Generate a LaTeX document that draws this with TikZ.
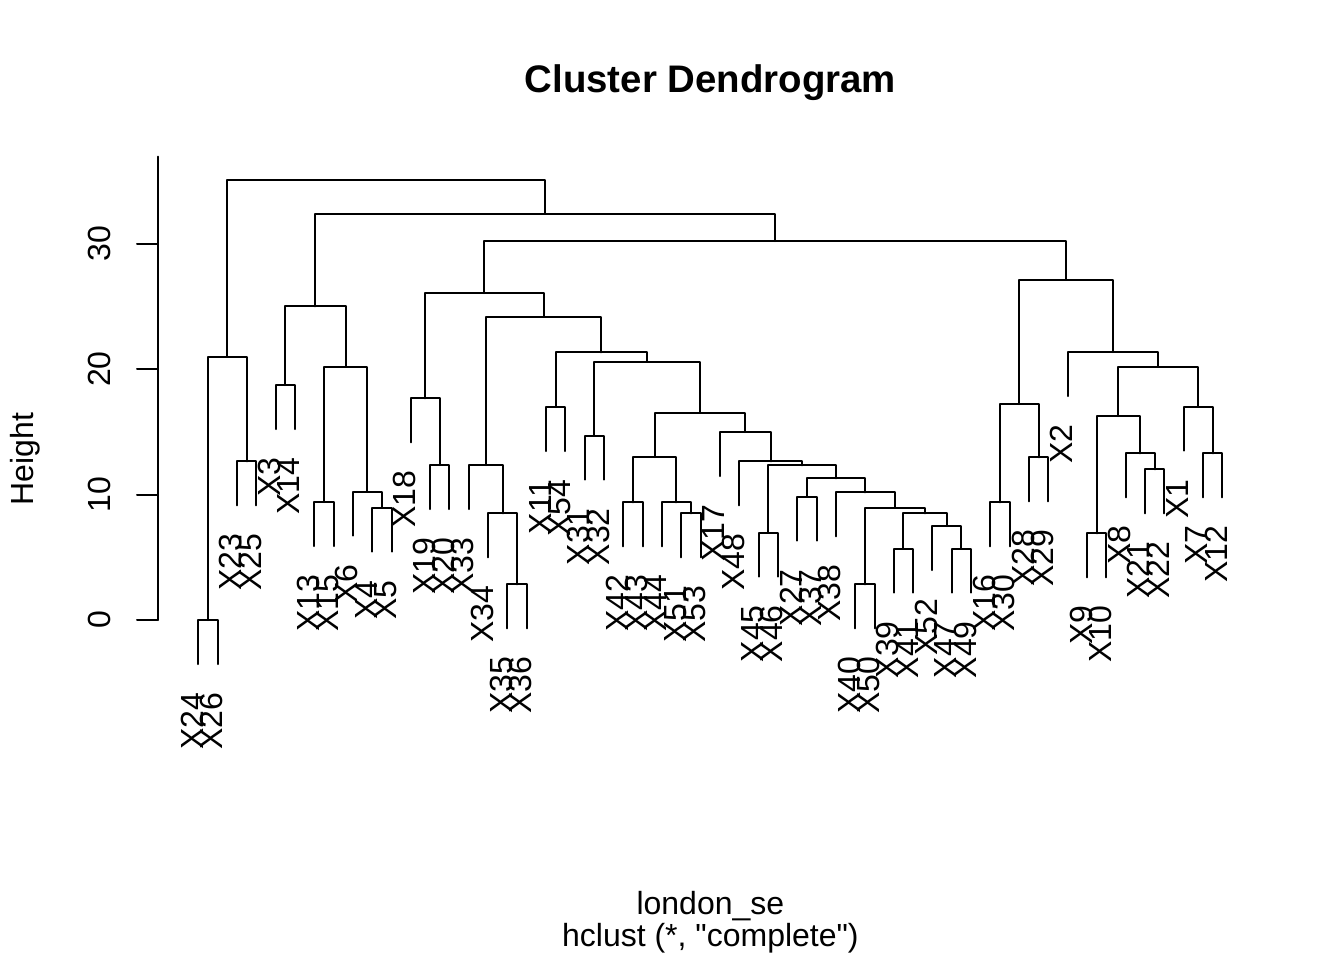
\documentclass[tikz,border=0pt]{standalone}
\usepackage{fontspec}
\setmainfont{Liberation Sans}
\usetikzlibrary{calc}
\font\plainsubfont="Liberation Sans" at 12pt
\newcommand\mergeat[4]{%
  \coordinate (t#1) at ($(#2)!.5!(#3)$);
  \coordinate (#1) at (t#1 |- 0,#4);
  \draw[dline] (#2) |- (#1) -| (#3);}
\begin{document}
\begin{tikzpicture}[x=0.375pt, y=-0.375pt,
  dline/.style={line width=0.75pt, line cap=round, line join=round},
  leaflab/.style={rotate=90, anchor=base east, inner sep=0pt, font=\fontsize{12}{14}\selectfont},
  ticklab/.style={rotate=90, anchor=base, inner sep=0pt, font=\fontsize{12}{14}\selectfont},
  axlab/.style={anchor=base, inner sep=0pt, font=\fontsize{12}{14}\selectfont},
  titlelab/.style={anchor=base, inner sep=0pt, font=\fontsize{14.4}{17}\selectfont\bfseries}]
\useasboundingbox[fill=white] (0,0) rectangle (1344,960);

% leaves
\foreach \i/\n/\py in {1/X24/620, 2/X26/620, 3/X23/461.3, 4/X25/461.3, 5/X3/385, 6/X14/385,
  7/X13/502, 8/X15/502, 9/X6/491.7, 10/X4/507.7, 11/X5/507.7, 12/X18/398.3, 13/X19/465,
  14/X20/465, 15/X33/465, 16/X34/513.3, 17/X35/584.3, 18/X36/584.3, 19/X11/407, 20/X54/407,
  21/X31/435.7, 22/X32/435.7, 23/X42/502.3, 24/X43/502.3, 25/X44/502.3, 26/X51/513.3,
  27/X53/513.3, 28/X17/432, 29/X48/461.3, 30/X45/532.7, 31/X46/532.7, 32/X27/496.7,
  33/X37/496.7, 34/X38/492.3, 35/X40/584.3, 36/X50/584.3, 37/X39/548.7, 38/X41/548.7,
  39/X52/526, 40/X47/548.7, 41/X49/548.7, 42/X16/502.3, 43/X30/502.3, 44/X28/457.3,
  45/X29/457.3, 46/X2/352, 47/X9/533.3, 48/X10/533.3, 49/X8/453.3, 50/X21/469.3,
  51/X22/469.3, 52/X1/406.7, 53/X7/453.3, 54/X12/453.3} {
  \coordinate (L\i) at ({198.3+(\i-1)*19.32},{\py+44});
  \node[leaflab] (T\i) at ({198.3+(\i-1)*19.32+5},{\py+72}) {\n};
}

% merges
\mergeat{m1}{L1}{L2}{620}
\mergeat{m2}{L3}{L4}{461.3}
\mergeat{m3}{m1}{m2}{356.7}
\mergeat{m4}{L5}{L6}{385}
\mergeat{m5}{L7}{L8}{502}
\mergeat{m6}{L10}{L11}{507.7}
\mergeat{m7}{L9}{m6}{491.7}
\mergeat{m8}{m5}{m7}{366.7}
\mergeat{m9}{m4}{m8}{306.3}
\mergeat{m10}{L13}{L14}{465}
\mergeat{m11}{L12}{m10}{398.3}
\mergeat{m12}{L17}{L18}{584.3}
\mergeat{m13}{L16}{m12}{513.3}
\mergeat{m14}{L15}{m13}{465}
\mergeat{m15}{L19}{L20}{407}
\mergeat{m16}{L21}{L22}{435.7}
\mergeat{m17}{L23}{L24}{502.3}
\mergeat{m18}{L26}{L27}{513.3}
\mergeat{m19}{L25}{m18}{502.3}
\mergeat{m20}{m17}{m19}{457}
\mergeat{m21}{L30}{L31}{532.7}
\mergeat{m22}{L32}{L33}{496.7}
\mergeat{m23}{L35}{L36}{584.3}
\mergeat{m24}{L37}{L38}{548.7}
\mergeat{m25}{L40}{L41}{548.7}
\mergeat{m26}{L39}{m25}{526}
\mergeat{m27}{m24}{m26}{513.3}
\mergeat{m28}{m23}{m27}{507.7}
\mergeat{m29}{L34}{m28}{492.3}
\mergeat{m30}{m22}{m29}{478.3}
\mergeat{m31}{m21}{m30}{465.3}
\mergeat{m32}{L29}{m31}{461.3}
\mergeat{m33}{L28}{m32}{432}
\mergeat{m34}{m20}{m33}{412.7}
\mergeat{m35}{m16}{m34}{361.7}
\mergeat{m36}{m15}{m35}{352.3}
\mergeat{m37}{m14}{m36}{316.7}
\mergeat{m38}{m11}{m37}{293}
\mergeat{m39}{L42}{L43}{502.3}
\mergeat{m40}{L44}{L45}{457.3}
\mergeat{m41}{m39}{m40}{404}
\mergeat{m42}{L47}{L48}{533.3}
\mergeat{m43}{L50}{L51}{469.3}
\mergeat{m44}{L49}{m43}{453.3}
\mergeat{m45}{m42}{m44}{416}
\mergeat{m46}{L53}{L54}{453.3}
\mergeat{m47}{L52}{m46}{406.7}
\mergeat{m48}{m45}{m47}{366.7}
\mergeat{m49}{L46}{m48}{352}
\mergeat{m50}{m41}{m49}{279.7}
\mergeat{m51}{m38}{m50}{241}
\mergeat{m52}{m9}{m51}{213.7}
\mergeat{m53}{m3}{m52}{180}

% y axis
\coordinate (atop) at (157.5,156.7);
\coordinate (abot) at (157.5,620);
\draw[dline] (atop) -- (abot);
\foreach \v/\yy in {0/620, 10/494.5, 20/369, 30/243.5} {
  \coordinate (tka\v) at (157.5,\yy);
  \coordinate (tkb\v) at (137,\yy);
  \draw[dline] (tka\v) -- (tkb\v);
  \node[ticklab] (tl\v) at (110.5,\yy) {\v};
}

% titles
\node[titlelab] (title) at (710.4,92.5) {Cluster Dendrogram};
\node[axlab] (xlab) at (710.4,914) {london\_se};
\node[axlab, font=\plainsubfont] (sub) at (710.4,946) {hclust (*, "complete")};
\node[axlab, rotate=90] (ylab) at (33,459) {Height};
\end{tikzpicture}
\end{document}
